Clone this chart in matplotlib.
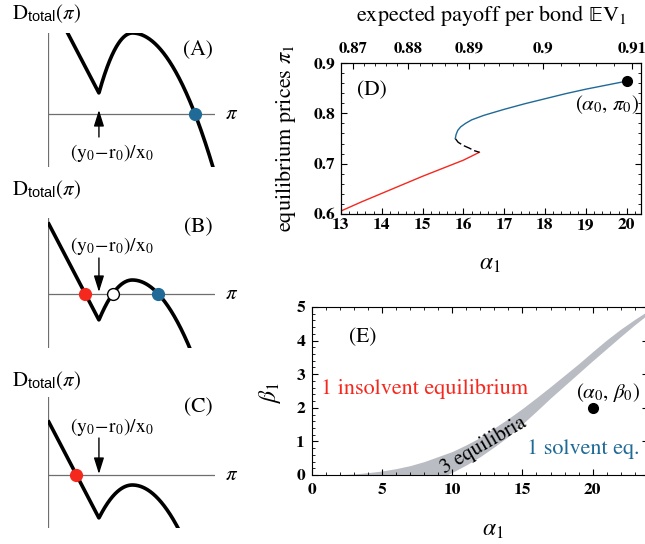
import numpy as np
import matplotlib
matplotlib.use('Agg')
import matplotlib.pyplot as plt
from matplotlib.ticker import MultipleLocator, FixedLocator

plt.rcParams['font.family'] = ['STIXGeneral', 'DejaVu Serif']
plt.rcParams['mathtext.fontset'] = 'custom'
plt.rcParams['mathtext.rm'] = 'STIXGeneral'
plt.rcParams['mathtext.it'] = 'STIXGeneral:italic'
plt.rcParams['mathtext.bf'] = 'STIXGeneral:bold'
plt.rcParams['mathtext.sf'] = 'Liberation Sans'
plt.rcParams['mathtext.fallback'] = 'stix'

RED = '#f5281e'
BLUE = '#1f6a96'
GRAY = '#b9bcc2'

# ---- schematic panels A-C : D_total(pi) ----
panel_names = ['(A)', '(B)', '(C)']
kink_height = [0.42, -0.52, -0.86]      # D at the kink (y0-r0)/x0
peak_height = [1.62, 0.28, -0.20]       # D at the local maximum
panel_ylim = [(-1.06, 1.62), (-1.08, 1.52), (-1.06, 1.56)]
panel_top_px = [33, 218, 397]           # top of vertical axis, pixels
label_y_px = [14, 190, 381]             # D_total(pi) label centre
name_y = [1.30, 1.34, 1.36]
arrow_tail = [-0.46, 0.72, 0.74]
arrow_tip = [0.08, 0.04, 0.02]
note_y = [-0.78, 0.96, 0.96]

KINK = 0.305       # position of (y0-r0)/x0
PEAK_GAP = 0.20    # distance kink -> maximum
SLOPE = 6.4        # slope of the left branch
CURV = 11.5        # curvature of the right branch

# ---- panel D : equilibrium prices ----
alpha_insolvent = [13.0, 13.5, 14.0, 14.5, 15.0, 15.5, 16.0, 16.39]
price_insolvent = [0.606, 0.624, 0.641, 0.658, 0.675, 0.691, 0.707, 0.7226]
alpha_unstable = [15.80, 15.87, 16.0, 16.14, 16.26, 16.39]
price_unstable = [0.750, 0.7425, 0.736, 0.731, 0.726, 0.7226]
alpha_solvent = [15.80, 15.82, 15.86, 15.93, 16.05, 16.2, 16.5, 17.0, 17.5,
                 18.0, 18.5, 19.0, 19.5, 20.0]
price_solvent = [0.750, 0.758, 0.766, 0.773, 0.780, 0.787, 0.796, 0.808,
                 0.819, 0.829, 0.839, 0.848, 0.856, 0.864]
alpha0, pi0 = 20.0, 0.864
ev_ticks = [0.87, 0.88, 0.89, 0.90, 0.91]
ev_tick_labels = ['0.87', '0.88', '0.89', '0.9', '0.91']
ev_tick_alpha = [13.29, 14.64, 16.14, 17.95, 20.13]

# ---- panel E : region of three equilibria ----
alpha_band = [0, 1, 2, 3, 4, 5, 6, 7, 8, 9, 9.6, 10, 11, 12, 13, 14, 15, 16,
              17, 18, 19, 20, 21, 22, 23, 24]
beta_upper = [0, 0.0, 0.01, 0.03, 0.07, 0.12, 0.19, 0.28, 0.40, 0.55, 0.64,
              0.70, 0.90, 1.12, 1.40, 1.68, 1.98, 2.30, 2.63, 2.97, 3.31,
              3.67, 4.02, 4.34, 4.63, 4.90]
beta_lower = [0, 0, 0, 0, 0, 0, 0, 0, 0, 0, 0, 0.08, 0.30, 0.55, 0.84, 1.15,
              1.52, 1.90, 2.29, 2.66, 3.03, 3.40, 3.76, 4.12, 4.47, 4.80]
beta0 = 2.0


def demand(pi, kd, pd):
    u = pi - KINK
    left = kd + SLOPE * (KINK - pi)
    rise = pd - (pd - kd) * (1 - u / PEAK_GAP) ** 2
    fall = pd - CURV * (u - PEAK_GAP) ** 2
    return np.where(u < 0, left, np.where(u < PEAK_GAP, rise, fall))


def roots(kd, pd):
    out = []
    p = KINK + kd / SLOPE
    if p < KINK:
        out.append((p, RED, RED))
    if kd < 0 < pd:
        u = PEAK_GAP * (1 - np.sqrt(pd / (pd - kd)))
        out.append((KINK + u, 'white', 'k'))
    if pd > 0:
        out.append((KINK + PEAK_GAP + np.sqrt(pd / CURV), BLUE, BLUE))
    return out


W, H = 645, 544
fig = plt.figure(figsize=(W / 100, H / 100), dpi=100)

pi_grid = np.linspace(0, 1, 500)
for i in range(3):
    y0, y1 = panel_ylim[i]
    h_px = (y1 - y0) * 50
    top = panel_top_px[i]
    ax = fig.add_axes([48 / W, 1 - (top + h_px) / H, 167 / W, h_px / H])
    ax.set_xlim(0, 1)
    ax.set_ylim(y0, y1)
    ax.axis('off')
    ax.plot([0, 0], [y0, y1], color='#6e6e6e', lw=0.9)
    ax.plot([0, 1], [0, 0], color='#6e6e6e', lw=0.9)
    ax.plot(pi_grid, demand(pi_grid, kink_height[i], peak_height[i]),
            color='k', lw=2.6, solid_capstyle='butt')
    for p, fc, ec in roots(kink_height[i], peak_height[i]):
        ax.plot(p, 0, 'o', ms=8.5, mfc=fc, mec=ec, mew=1.0, zorder=5)
    ax.annotate('', xy=(KINK, arrow_tip[i]), xytext=(KINK, arrow_tail[i]),
                arrowprops=dict(arrowstyle='-|>,head_length=0.7,head_width=0.22',
                                color='k', lw=1.0, mutation_scale=14,
                                shrinkA=0, shrinkB=0))
    ax.text(0.383, note_y[i], r'$(\mathrm{y}_0\!-\!\mathrm{r}_0)/\mathrm{x}_0$',
            fontsize=14, ha='center', va='center')
    ax.text(0.898, name_y[i], panel_names[i], fontsize=15.5,
            ha='center', va='center')
    ax.text(1.1, 0, r'$\pi$', fontsize=15, ha='center', va='center')
    fig.text(12 / W, 1 - label_y_px[i] / H, r'D$_{\mathsf{total}}$($\pi$)',
             fontsize=15, ha='left', va='center')

# ---- panel D ----
axd = fig.add_axes([341 / W, 1 - 214 / H, 300 / W, 151 / H])
axd.plot(alpha_insolvent, price_insolvent, color=RED, lw=1.0)
axd.plot(alpha_unstable, price_unstable, color='k', lw=1.0, dashes=(6, 2.2))
axd.plot(alpha_solvent, price_solvent, color=BLUE, lw=1.0)
axd.plot(alpha0, pi0, 'o', color='k', ms=7)
axd.set_xlim(13, 20.35)
axd.set_ylim(0.6, 0.9)
axd.set_xticks(range(13, 21))
axd.set_yticks([0.6, 0.7, 0.8, 0.9])
axd.xaxis.set_minor_locator(MultipleLocator(0.2))
axd.yaxis.set_minor_locator(MultipleLocator(0.02))
axd.tick_params(which='both', direction='in', right=True, labelsize=12.5)
axd.tick_params(which='major', length=4, width=0.8)
axd.tick_params(which='minor', length=2, width=0.6)
axd.tick_params(axis='x', pad=3)
axd.tick_params(axis='y', pad=4)
axd.set_ylabel(r'equilibrium prices $\pi_1$', fontsize=16)
axd.yaxis.set_label_coords(-0.143, 0.5)
axd.set_xlabel(r'$\alpha_1$', fontsize=17)
axd.xaxis.set_label_coords(0.497, -0.26)
axd.text(13.76, 0.846, '(D)', fontsize=15.5, ha='center', va='center')
axd.text(19.52, 0.817, r'$(\alpha_0,\, \pi_0)$', fontsize=15, ha='center',
         va='center')

top = axd.twiny()
top.set_xlim(axd.get_xlim())
top.set_xticks(ev_tick_alpha)
top.set_xticklabels(ev_tick_labels)
ev_minor = [v for v in np.arange(0.872, 0.9101, 0.002)
            if min(abs(v - t) for t in ev_ticks) > 1e-6]
top.xaxis.set_minor_locator(FixedLocator(np.interp(ev_minor, ev_ticks,
                                                   ev_tick_alpha)))
top.tick_params(which='both', direction='in', labelsize=12, pad=5)
top.tick_params(which='major', length=4, width=0.8)
top.tick_params(which='minor', length=2, width=0.6)
fig.text(491 / W, 1 - 15 / H,
         'expected payoff per bond \U0001D53CV$_1$',
         fontsize=16, ha='center', va='center')

for a in (axd, top):
    for lab in a.get_xticklabels() + a.get_yticklabels():
        lab.set_fontweight('bold')
    for s in a.spines.values():
        s.set_linewidth(0.8)

# ---- panel E ----
axe = fig.add_axes([312 / W, 1 - 475 / H, 336 / W, 168 / H])
axe.fill_between(alpha_band, beta_lower, beta_upper, color=GRAY, lw=0)
axe.plot(20, beta0, 'o', color='k', ms=7)
axe.set_xlim(0, 336 / 14.03)
axe.set_ylim(0, 5)
axe.set_xticks([0, 5, 10, 15, 20])
axe.set_yticks(range(6))
axe.xaxis.set_minor_locator(MultipleLocator(1))
axe.yaxis.set_minor_locator(MultipleLocator(0.2))
axe.tick_params(which='both', direction='in', top=True, right=True,
                labelsize=12.5)
axe.tick_params(which='major', length=4, width=0.8)
axe.tick_params(which='minor', length=2, width=0.6)
axe.tick_params(axis='x', pad=6)
axe.tick_params(axis='y', pad=5)
for lab in axe.get_xticklabels() + axe.get_yticklabels():
    lab.set_fontweight('bold')
for s in axe.spines.values():
    s.set_linewidth(0.8)
axe.set_ylabel(r'$\beta_1$', fontsize=17)
axe.yaxis.set_label_coords(-0.086, 0.49)
axe.set_xlabel(r'$\alpha_1$', fontsize=17)
axe.xaxis.set_label_coords(0.539, -0.268)
axe.text(3.63, 4.1, '(E)', fontsize=15.5, ha='center', va='center')
axe.text(8.05, 2.56, '1 insolvent equilibrium', color=RED, fontsize=16,
         ha='center', va='center')
axe.text(21.1, 2.47, r'$(\alpha_0,\, \beta_0)$', fontsize=15, ha='center',
         va='center')
axe.text(19.3, 0.77, '1 solvent eq.', color=BLUE, fontsize=16,
         ha='center', va='center')
axe.text(12.2, 0.9, '3 equilibria', fontsize=15, ha='center', va='center',
         rotation=30, rotation_mode='anchor')

fig.savefig('out.png', dpi=100)
